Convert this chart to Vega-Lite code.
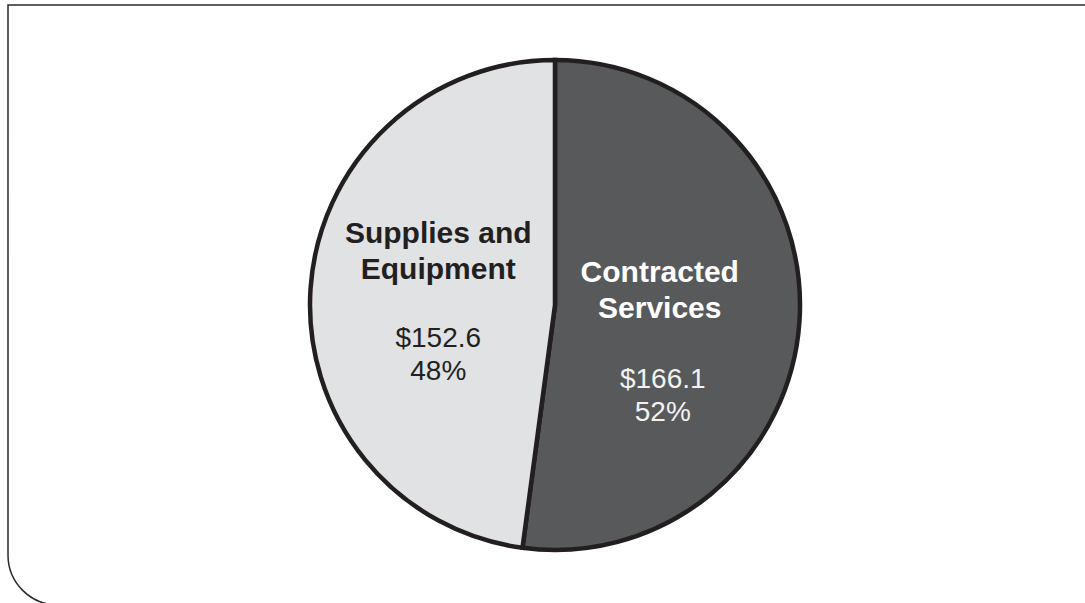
{
  "$schema": "https://vega.github.io/schema/vega-lite/v6.json",
  "description": "Pie chart: Contracted Services vs Supplies and Equipment.",
  "background": "white",
  "autosize": "none",
  "width": 1094,
  "height": 600,
  "padding": {"left": 8, "top": 5, "right": -17, "bottom": -2},
  "view": {"stroke": null},
  "data": {
    "values": [
      {"category": "Contracted Services", "name": ["Contracted", "Services"], "amount": 166.1, "label": ["$166.1", "52%"], "order": 1},
      {"category": "Supplies and Equipment", "name": ["Supplies and", "Equipment"], "amount": 152.6, "label": ["$152.6", "48%"], "order": 2}
    ]
  },
  "layer": [
    {
      "data": {"values": [{}]},
      "mark": {"type": "rect", "filled": false, "stroke": "#2a2a2a", "strokeWidth": 1.5, "cornerRadiusBottomLeft": 50},
      "encoding": {}
    },
    {
      "mark": {"type": "arc", "outerRadius": 245, "stroke": "#231f20", "strokeWidth": 4.5},
      "encoding": {
        "theta": {"field": "amount", "type": "quantitative", "stack": true},
        "order": {"field": "order"},
        "color": {
          "field": "category",
          "type": "nominal",
          "scale": {"domain": ["Contracted Services", "Supplies and Equipment"], "range": ["#58595b", "#e1e2e4"]},
          "legend": null
        }
      }
    },
    {
      "mark": {
        "type": "text",
        "radius": 112,
        "font": "Liberation Sans",
        "fontSize": 30,
        "fontWeight": "bold",
        "align": "center",
        "baseline": "alphabetic",
        "lineHeight": 36,
        "dx": {"expr": "datum.category === 'Contracted Services' ? -7 : -5"},
        "dy": {"expr": "datum.category === 'Contracted Services' ? -30 : -55"}
      },
      "encoding": {
        "theta": {"field": "amount", "type": "quantitative", "stack": true},
        "order": {"field": "order"},
        "text": {"field": "name"},
        "color": {"condition": {"test": "datum.category === 'Contracted Services'", "value": "#ffffff"}, "value": "#231f20"}
      }
    },
    {
      "mark": {
        "type": "text",
        "radius": 112,
        "font": "Liberation Sans",
        "fontSize": 28,
        "align": "center",
        "baseline": "alphabetic",
        "lineHeight": 33,
        "dx": {"expr": "datum.category === 'Contracted Services' ? -4 : -5"},
        "dy": {"expr": "datum.category === 'Contracted Services' ? 76 : 49"}
      },
      "encoding": {
        "theta": {"field": "amount", "type": "quantitative", "stack": true},
        "order": {"field": "order"},
        "text": {"field": "label"},
        "color": {"condition": {"test": "datum.category === 'Contracted Services'", "value": "#f2f2f2"}, "value": "#231f20"}
      }
    }
  ]
}
